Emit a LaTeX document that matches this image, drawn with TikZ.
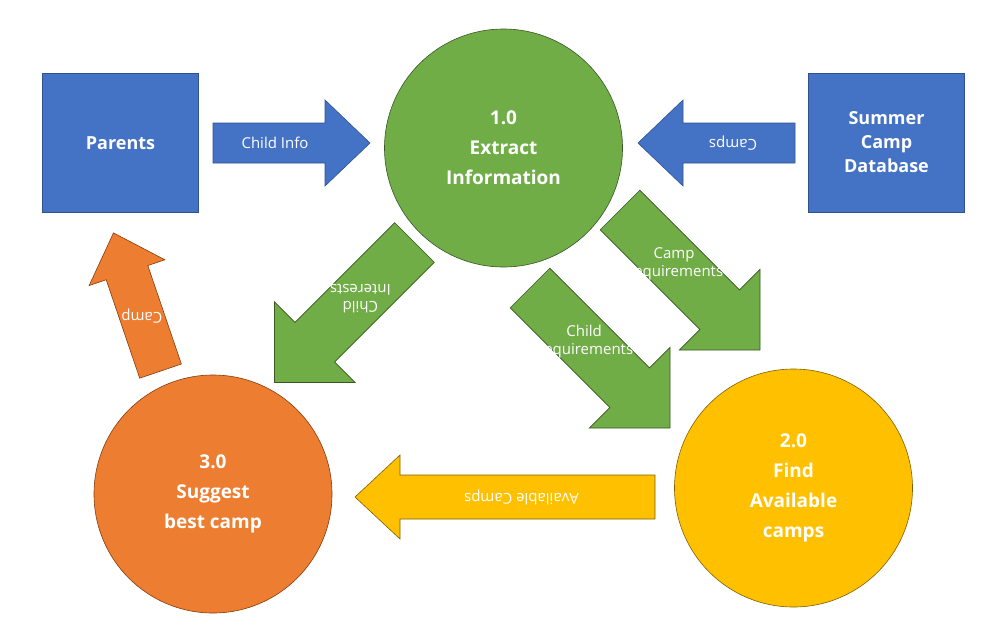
\documentclass[tikz,border=0pt]{standalone}
\usepackage{fontspec}
\setmainfont{Open Sans}
\definecolor{cblue}{HTML}{4472C4}
\definecolor{cgreen}{HTML}{70AD47}
\definecolor{corange}{HTML}{ED7D31}
\definecolor{cyellow}{HTML}{FFC000}
\definecolor{cblueD}{HTML}{2F528F}
\definecolor{cgreenD}{HTML}{385723}
\definecolor{corangeD}{HTML}{843C0C}
\definecolor{cyellowD}{HTML}{7F6000}
% #1 name #2 center #3 angle #4 length #5 half body #6 half head #7 head len #8 colour #9 text(with rotation flag)
\newcommand\fatarrow[9]{%
  \begin{scope}[shift={#2},rotate=#3]
    \draw[fill=#8,draw=#8D,line width=0.6pt]
      (-#4/2,-#5) -- (#4/2-#7,-#5) -- (#4/2-#7,-#6) -- (#4/2,0)
      -- (#4/2-#7,#6) -- (#4/2-#7,#5) -- (-#4/2,#5) -- cycle;
    \node[lbl] (#1) at (-#7/2+6,0) {#9};
  \end{scope}}
\tikzset{
  lbl/.style={text=white,font=\fontsize{15}{18}\selectfont,align=center,inner sep=0pt},
  circ/.style={circle,draw=#1D,fill=#1,line width=0.6pt,minimum size=238pt,inner sep=0pt,
    text=white,font=\fontsize{19}{30}\selectfont\bfseries,align=center},
  ent/.style={rectangle,draw=cblueD,fill=cblue,line width=0.8pt,minimum width=156pt,minimum height=139pt,
    text=white,font=\fontsize{18}{24}\selectfont\bfseries,align=center}
}
\begin{document}
\begin{tikzpicture}[x=1pt,y=-1pt]
\useasboundingbox (0,0) rectangle (1008,633);
\node[ent] (parents) at (120.5,143) {Parents};
\node[ent] (db) at (886.5,142.5) {Summer\\Camp\\Database};
\node[circ=cgreen] (p1) at (503.5,148) {1.0\\Extract\\Information};
\node[circ=cyellow] (p2) at (793.5,488) {2.0\\Find\\Available\\camps};
\node[circ=corange] (p3) at (213,494) {3.0\\Suggest\\best camp};
\fatarrow{a1}{(291.5,143)}{0}{157}{20}{43}{45}{cblue}{Child Info}
\fatarrow{a2}{(716.5,143)}{180}{157}{20}{43}{45}{cblue}{\rotatebox{180}{Camps}}
\fatarrow{a3}{(505,497)}{180}{300}{22}{42}{45}{cyellow}{\rotatebox{180}{Available Camps}}
\fatarrow{a4}{(137,302)}{108.8}{146}{22}{40}{42}{corange}{\rotatebox{180}{Camp}}
\fatarrow{a5}{(344.5,312.5)}{225}{198}{28}{57}{57}{cgreen}{\rotatebox{180}{\begin{tabular}{c}Child\\Interests\end{tabular}}}
\fatarrow{a6}{(690,280)}{-45}{198}{28}{57}{57}{cgreen}{\begin{tabular}{c}Camp\\Requirements\end{tabular}}
\fatarrow{a7}{(600,358)}{-45}{198}{28}{57}{57}{cgreen}{\begin{tabular}{c}Child\\Requirements\end{tabular}}
\end{tikzpicture}
\end{document}
